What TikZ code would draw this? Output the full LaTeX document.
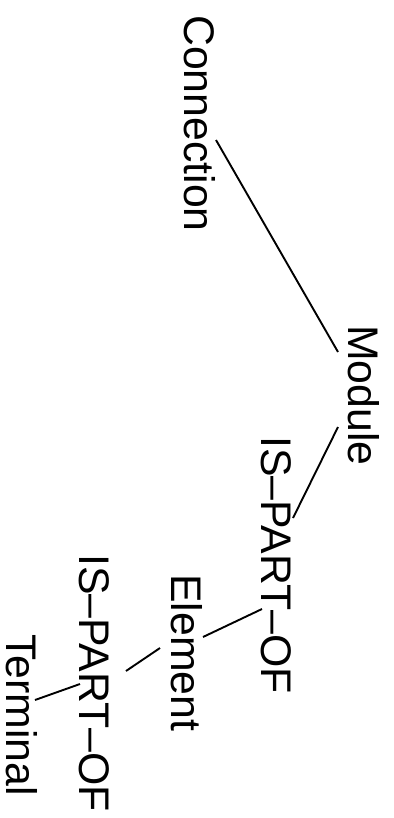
\documentclass[tikz,border=0pt]{standalone}
\usepackage{fontspec}
\setmainfont{Liberation Sans}
\begin{document}
\begin{tikzpicture}[x=1pt,y=-1pt,
  lbl/.style={rotate=-90,anchor=base west,inner sep=0pt,font=\fontsize{42.8}{46}\selectfont},
  conn/.style={line width=1.9pt}]
\useasboundingbox (0,0) rectangle (393,818);
\node[lbl] (cn) at (184,15) {Connection};
\node[lbl] (md) at (348,325) {Module};
\node[lbl] (ip1) at (261,436) {IS–PART–OF};
\node[lbl] (el) at (171,574) {Element};
\node[lbl] (ip2) at (79,554) {IS–PART–OF};
\node[lbl] (tm) at (6,634) {Terminal};
\draw[conn] ([shift={(32,125)}]cn.base west) -- ([shift={(-10,27)}]md.base west);
\draw[conn] ([shift={(-10,102)}]md.base west) -- ([shift={(32,82)}]ip1.base west);
\draw[conn] ([shift={(1,173)}]ip1.base west) -- ([shift={(32,63)}]el.base west);
\draw[conn] ([shift={(-11,74)}]el.base west) -- ([shift={(47,117)}]ip2.base west);
\draw[conn] ([shift={(1,130)}]ip2.base west) -- ([shift={(29,66)}]tm.base west);
\end{tikzpicture}
\end{document}
